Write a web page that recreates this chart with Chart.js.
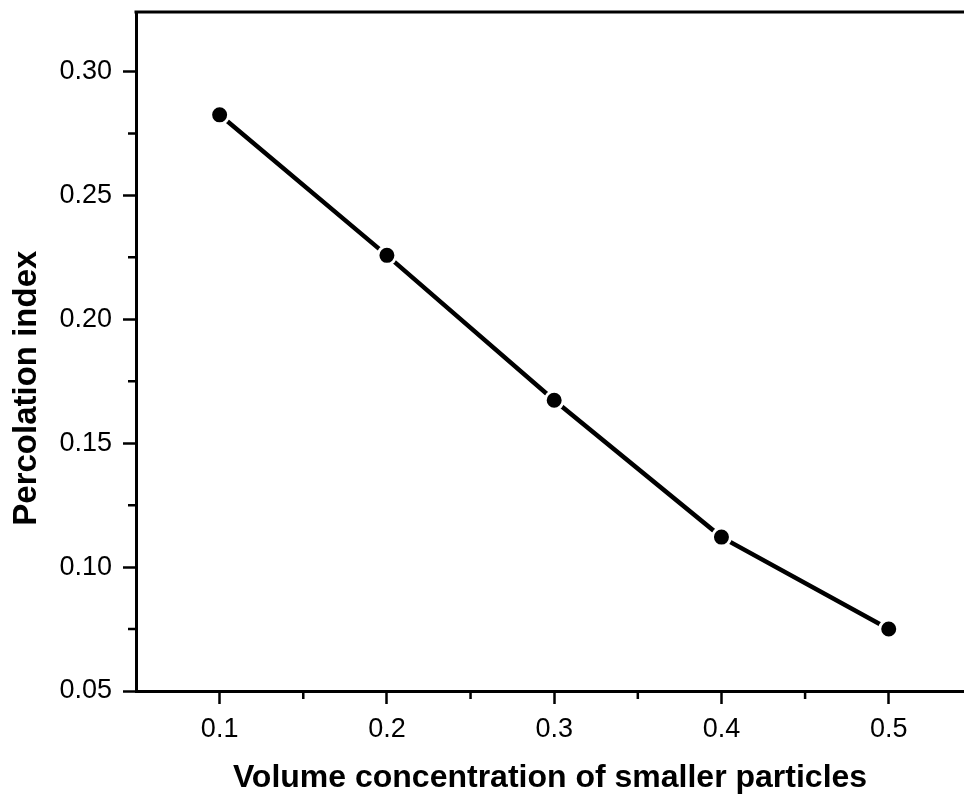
<!DOCTYPE html>
<html>
<head>
<meta charset="utf-8">
<script src="https://cdn.jsdelivr.net/npm/chart.js@4/dist/chart.umd.min.js"></script>
<style>
  html, body { margin: 0; padding: 0; background: #fff; overflow: hidden; }
</style>
</head>
<body>
<canvas id="chart" width="964" height="795"></canvas>
<script>
// Percolation index vs volume concentration of smaller particles

const concentrations = [0.1, 0.2, 0.3, 0.4, 0.5];
const percolationIndex = [0.2825, 0.2258, 0.1673, 0.1121, 0.0750];

const xTicks = [0.1, 0.2, 0.3, 0.4, 0.5];
const yTicks = [0.05, 0.10, 0.15, 0.20, 0.25, 0.30];
const xMinorTicks = [0.15, 0.25, 0.35, 0.45];
const yMinorTicks = [0.075, 0.125, 0.175, 0.225, 0.275];

const FONT = '"Liberation Sans", Arial, Helvetica, sans-serif';

// top frame line + short minor ticks (Origin style)
const frameExtras = {
  id: 'frameExtras',
  afterDraw(chart) {
    const { ctx, chartArea } = chart;
    const xs = chart.scales.x, ys = chart.scales.y;
    ctx.save();
    ctx.strokeStyle = '#000';
    ctx.lineWidth = 3;
    ctx.beginPath();
    ctx.moveTo(chartArea.left - 1.5, chartArea.top);
    ctx.lineTo(chartArea.right, chartArea.top);
    ctx.stroke();

    ctx.lineWidth = 2.5;
    ctx.beginPath();
    xMinorTicks.forEach(v => {
      const px = xs.getPixelForValue(v);
      ctx.moveTo(px, chartArea.bottom);
      ctx.lineTo(px, chartArea.bottom + 8);
    });
    yMinorTicks.forEach(v => {
      const py = ys.getPixelForValue(v);
      ctx.moveTo(chartArea.left, py);
      ctx.lineTo(chartArea.left - 8, py);
    });
    ctx.stroke();
    ctx.restore();
  }
};

// no label overhang padding: the plot box is placed by layout.padding only
function noOverhang(s) {
  s.paddingLeft = s.paddingRight = s.paddingTop = s.paddingBottom = 0;
}

new Chart(document.getElementById('chart').getContext('2d'), {
  type: 'line',
  data: {
    datasets: [{
      data: concentrations.map((x, i) => ({ x, y: percolationIndex[i] })),
      borderColor: '#000',
      borderWidth: 4.5,
      pointRadius: 9,
      pointBackgroundColor: '#000',
      pointBorderColor: '#fff',
      pointBorderWidth: 3,
      tension: 0,
    }]
  },
  options: {
    responsive: false,
    devicePixelRatio: 1,
    animation: false,
    layout: { autoPadding: false, padding: { top: 12, right: 0, bottom: 0, left: 0 } },
    plugins: { legend: { display: false }, tooltip: { enabled: false } },
    scales: {
      x: {
        type: 'linear',
        min: 0.05,
        max: 0.545,
        afterBuildTicks: s => { s.ticks = xTicks.map(v => ({ value: v })); },
        afterFit: s => { s.height = 104; noOverhang(s); },
        grid: { drawOnChartArea: false, drawTicks: true, tickLength: 13, tickWidth: 2.5, tickColor: '#000' },
        border: { display: true, color: '#000', width: 3 },
        ticks: {
          color: '#000',
          padding: 9,
          font: { family: FONT, size: 27 },
          callback: v => v.toFixed(1),
        },
        title: {
          display: true,
          text: 'Volume concentration of smaller particles',
          color: '#000',
          font: { family: FONT, size: 32, weight: 'bold', lineHeight: 1 },
          padding: { top: 0, bottom: 1 },
        },
      },
      y: {
        type: 'linear',
        min: 0.05,
        max: 0.324,
        afterBuildTicks: s => { s.ticks = yTicks.map(v => ({ value: v })); },
        afterFit: s => { s.width = 136; noOverhang(s); },
        grid: { drawOnChartArea: false, drawTicks: true, tickLength: 13, tickWidth: 2.5, tickColor: '#000' },
        border: { display: true, color: '#000', width: 3 },
        ticks: {
          color: '#000',
          padding: 11,
          font: { family: FONT, size: 27 },
          callback: v => v.toFixed(2),
        },
        title: {
          display: true,
          // trailing spaces push the title down, as in the original figure
          text: 'Percolation index        ',
          color: '#000',
          font: { family: FONT, size: 33, weight: 'bold', lineHeight: 1 },
          padding: { top: 10, bottom: 0 },
        },
      },
    },
  },
  plugins: [frameExtras],
});
</script>
</body>
</html>
